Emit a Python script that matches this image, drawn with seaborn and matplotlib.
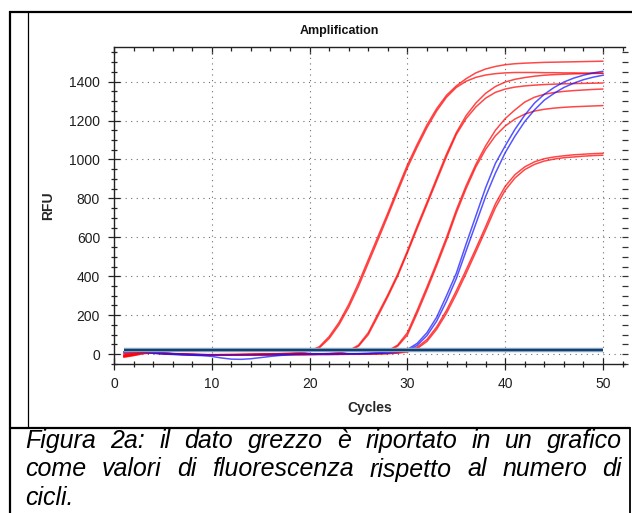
import matplotlib
matplotlib.use("Agg")
import matplotlib.pyplot as plt
from matplotlib.lines import Line2D
from matplotlib.ticker import MultipleLocator
import pandas as pd
import seaborn as sns

# ---------------------------------------------------------------- data
cycles = list(range(1, 51))

well_a1 = [-12, -4, 8, 10, 6, 2, 0, -2, -3, -3,
           -3, -2, -2, -1, 0, 1, 2, 4, 8, 16,
           38, 90, 162, 255, 365, 485, 605, 725, 850, 972,
           1078, 1178, 1262, 1330, 1378, 1415, 1445, 1465, 1478, 1487,
           1492, 1495, 1497, 1499, 1500, 1501, 1502, 1503, 1504, 1505]
well_a2 = [-5, 6, 12, 8, 3, 0, -2, -3, -4, -4,
           -3, -3, -2, -1, 0, 1, 2, 3, 6, 13,
           32, 80, 150, 240, 348, 468, 588, 710, 835, 957,
           1064, 1164, 1250, 1320, 1370, 1402, 1422, 1434, 1441, 1445,
           1447, 1447, 1447, 1446, 1446, 1445, 1445, 1444, 1444, 1443]
well_b1 = [-16, -8, 2, 6, 4, 1, -1, -2, -3, -4,
           -4, -4, -3, -3, -2, -2, -1, -1, 0, 0,
           1, 3, 7, 17, 46, 110, 208, 305, 410, 530,
           658, 780, 905, 1028, 1138, 1225, 1290, 1340, 1375, 1398,
           1412, 1421, 1428, 1433, 1436, 1438, 1440, 1441, 1442, 1443]
well_b2 = [-8, 0, 6, 5, 2, 0, -1, -2, -3, -3,
           -3, -3, -3, -2, -2, -1, -1, 0, 0, 0,
           1, 2, 6, 15, 40, 100, 196, 295, 400, 520,
           645, 768, 892, 1015, 1128, 1210, 1270, 1315, 1345, 1362,
           1372, 1378, 1382, 1385, 1387, 1389, 1390, 1391, 1392, 1393]
well_c1 = [4, 8, 10, 7, 3, 0, -2, -3, -3, -4,
           -4, -4, -4, -3, -3, -3, -2, -2, -2, -1,
           -1, -1, 0, 0, 1, 3, 7, 17, 46, 110,
           225, 345, 470, 600, 740, 865, 975, 1070, 1150, 1210,
           1255, 1295, 1320, 1335, 1344, 1350, 1354, 1357, 1360, 1362]
well_c2 = [0, 4, 7, 5, 2, -1, -3, -4, -4, -5,
           -5, -5, -4, -4, -4, -3, -3, -2, -2, -2,
           -1, -1, -1, 0, 0, 2, 5, 14, 40, 98,
           210, 330, 455, 585, 725, 850, 962, 1052, 1122, 1172,
           1208, 1233, 1249, 1258, 1264, 1268, 1271, 1273, 1275, 1277]
well_d1 = [-14, -6, 4, 9, 7, 3, 0, -2, -4, -5,
           -5, -5, -5, -4, -4, -4, -3, -3, -3, -2,
           -2, -2, -1, -1, -1, 0, 1, 3, 6, 14,
           35, 75, 140, 225, 325, 432, 542, 655, 772, 862,
           922, 962, 988, 1004, 1013, 1019, 1024, 1027, 1030, 1032]
well_d2 = [-10, -2, 6, 8, 5, 1, -1, -3, -4, -5,
           -6, -6, -5, -5, -5, -4, -4, -3, -3, -3,
           -2, -2, -2, -1, -1, -1, 0, 2, 5, 11,
           28, 65, 128, 210, 308, 414, 525, 637, 752, 842,
           905, 948, 975, 992, 1002, 1009, 1013, 1017, 1020, 1022]
well_e1 = [10, 12, 12, 10, 6, 2, 0, -2, -3, -4,
           -4, -4, -3, -3, -2, -2, -1, -1, 0, 0,
           0, 0, 1, 1, 2, 3, 5, 8, 13, 24,
           55, 110, 190, 300, 415, 565, 710, 855, 980, 1070,
           1155, 1228, 1290, 1335, 1370, 1398, 1418, 1433, 1445, 1453]
well_e2 = [12, 14, 10, 4, 0, -2, -4, -6, -8, -12,
           -20, -26, -27, -24, -18, -12, -7, -3, 0, 1,
           1, 1, 1, 2, 2, 3, 4, 6, 10, 18,
           45, 95, 170, 272, 388, 530, 670, 810, 930, 1035,
           1120, 1195, 1255, 1305, 1340, 1370, 1392, 1410, 1423, 1433]

threshold = 22

red_wells = {"A1": well_a1, "A2": well_a2, "B1": well_b1, "B2": well_b2,
             "C1": well_c1, "C2": well_c2, "D1": well_d1, "D2": well_d2}
blue_wells = {"E1": well_e1, "E2": well_e2}

x_ticks = [0, 10, 20, 30, 40, 50]
y_ticks = [0, 200, 400, 600, 800, 1000, 1200, 1400]

caption_lines = ["Figura 2a: il dato grezzo è riportato in un grafico",
                 "come valori di fluorescenza rispetto al numero di",
                 "cicli."]

# ---------------------------------------------------------------- frame
sns.set_style("ticks")
plt.rcParams["font.family"] = ["Liberation Sans", "DejaVu Sans"]

W, H = 635, 513
fig = plt.figure(figsize=(W / 100, H / 100), dpi=100)
fig.patch.set_facecolor("white")


def fx(px):
    return px / W


def fy(py):
    return 1 - py / H


def hline(y, x0, x1, lw):
    fig.add_artist(Line2D([fx(x0), fx(x1)], [fy(y), fy(y)], color="black",
                          lw=lw, transform=fig.transFigure, solid_capstyle="butt"))


def vline(x, y0, y1, lw):
    fig.add_artist(Line2D([fx(x), fx(x)], [fy(y0), fy(y1)], color="black",
                          lw=lw, transform=fig.transFigure, solid_capstyle="butt"))


hline(12, 9, 632, 1.6)
vline(10, 11, 513, 1.6)
vline(28.3, 12, 428, 0.9)
hline(428, 9, 630, 1.6)
vline(629.5, 427, 513, 1.3)

# ---------------------------------------------------------------- chart
ax = fig.add_axes([fx(114), fy(364), (625 - 114) / W, (364 - 47) / H])

rows = []
for name, vals in {**red_wells, **blue_wells}.items():
    for c, v in zip(cycles, vals):
        rows.append({"cycle": c, "rfu": v, "well": name})
df = pd.DataFrame(rows)

palette = {k: "#ff0000" for k in red_wells}
palette.update({k: "#1414ff" for k in blue_wells})

sns.lineplot(data=df, x="cycle", y="rfu", hue="well", palette=palette,
             estimator=None, legend=False, lw=1.1, alpha=0.72, ax=ax)

ax.plot([cycles[0], cycles[-1]], [threshold, threshold], color="#8fb0d2",
        lw=3.2, solid_capstyle="butt", zorder=5)
ax.plot([cycles[0], cycles[-1]], [threshold, threshold], color="#173f69",
        lw=1.6, solid_capstyle="butt", zorder=6)

ax.set_xlim(0, 52.25)
ax.set_ylim(-51, 1578)
ax.set_xticks(x_ticks)
ax.set_yticks(y_ticks)
ax.xaxis.set_minor_locator(MultipleLocator(2))
ax.yaxis.set_minor_locator(MultipleLocator(50))

ax.grid(True, which="major", color="#6e6e6e", linestyle=(0, (1, 4)), lw=0.8)

for side in ("left", "bottom"):
    ax.spines[side].set_color("#222222")
    ax.spines[side].set_linewidth(1.0)
ax.spines["top"].set_visible(False)
ax.spines["right"].set_visible(False)

ax.tick_params(axis="both", which="both", colors="#222222", width=0.9,
               labelsize=10, labelcolor="#1e1e1e", top=False, right=False)
ax.tick_params(axis="y", which="major", direction="inout", length=8, pad=6)
ax.tick_params(axis="y", which="minor", direction="inout", length=5)
ax.tick_params(axis="x", which="major", direction="inout", length=8, pad=5)
ax.tick_params(axis="x", which="minor", direction="inout", length=5)

# top edge: ticks pointing into the plot
top = ax.secondary_xaxis("top")
top.set_xticks(x_ticks)
top.xaxis.set_minor_locator(MultipleLocator(2))
top.tick_params(which="major", direction="in", length=5, width=0.9,
                colors="#222222", labeltop=False)
top.tick_params(which="minor", direction="in", length=3, width=0.9,
                colors="#222222")
top.spines["top"].set_color("#222222")
top.spines["top"].set_linewidth(1.0)

# right edge: ticks only, no spine
right = ax.secondary_yaxis("right")
right.set_yticks(y_ticks)
right.yaxis.set_minor_locator(MultipleLocator(50))
right.tick_params(which="both", direction="inout", length=4, width=0.9,
                  colors="#333333", labelright=False)
right.spines["right"].set_visible(False)

ax.set_xlabel("Cycles", fontsize=10, fontweight="bold", va="center")
ax.set_ylabel("RFU", fontsize=10, fontweight="bold", va="center")
ax.xaxis.set_label_coords(0.5, (364 - 408) / (364 - 47))
ax.yaxis.set_label_coords((48 - 114) / (625 - 114), 0.5)

fig.text(fx(339), fy(31), "Amplification", fontsize=9, fontweight="bold",
         ha="center", va="center", color="#111111")

# ---------------------------------------------------------------- caption
renderer = fig.canvas.get_renderer()
cap_style = dict(fontsize=18, style="italic", color="black", va="baseline",
                 ha="left")
left_px, right_px = 25, 622
baselines = [448, 476.5, 505]

for i, (line, base) in enumerate(zip(caption_lines, baselines)):
    words = line.split(" ")
    texts = [fig.text(0, 0, w, **cap_style) for w in words]
    widths = [t.get_window_extent(renderer).width for t in texts]
    justify = i < len(caption_lines) - 1 and len(words) > 1
    if justify:
        gap = (right_px - left_px - sum(widths)) / (len(words) - 1)
    else:
        gap = 7
    x = left_px
    for t, w in zip(texts, widths):
        t.set_position((fx(x), fy(base)))
        x += w + gap

fig.savefig("out.png", dpi=100, facecolor="white")
